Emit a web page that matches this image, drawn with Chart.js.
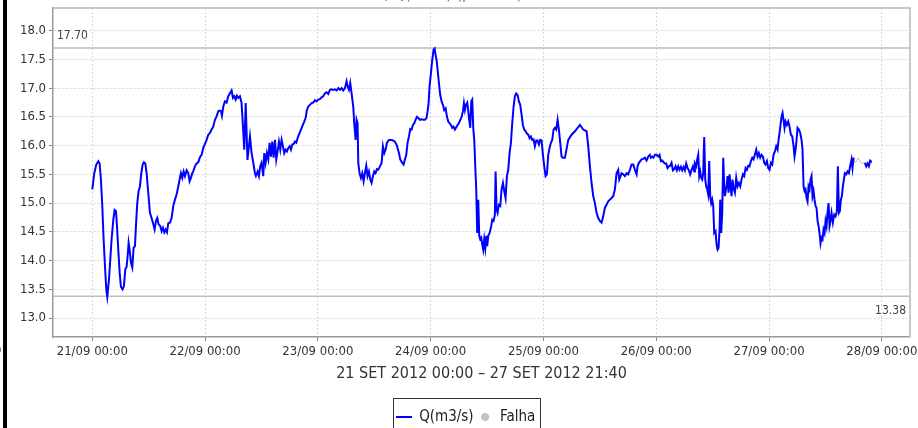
<!DOCTYPE html>
<html>
<head>
<meta charset="utf-8">
<script src="https://cdn.jsdelivr.net/npm/chart.js@4/dist/chart.umd.min.js"></script>
<style>
  html, body { margin: 0; padding: 0; background: #fff; }
  body { width: 918px; height: 428px; overflow: hidden; position: relative; }
  #wrap { position: absolute; left: 0; top: 0; width: 918px; height: 445px; }
  #barra { position: absolute; left: 3px; top: 0; width: 4px; height: 428px; background: #000; }
  #corte { position: absolute; left: -6px; top: 342px; font: 13px 'DejaVu Sans Condensed', 'DejaVu Sans'; color: #333; }
  #titulo { position: absolute; left: 342px; top: -16px; white-space: nowrap;
            font: 16px 'DejaVu Sans Condensed', 'DejaVu Sans'; color: #777; }
</style>
</head>
<body>
<div id="wrap"><canvas id="grafico" width="918" height="445"></canvas></div>
<div id="titulo">Vazão, Q(m3/s) (período)</div>
<div id="barra"></div>
<div id="corte">0</div>
<script>
// horas desde 21/09/2012 00:00 e vazão medida (m3/s); null = falha
const horas = [
  0.00, 0.43, 0.85, 1.28, 1.56, 1.84, 2.13, 2.41, 2.70, 2.98, 3.19, 3.55, 3.83, 4.11, 4.47, 4.75,
  5.04, 5.25, 5.53, 5.82, 6.10, 6.45, 6.74, 7.02, 7.30, 7.52, 7.73, 7.94, 8.23, 8.51, 8.79, 9.08,
  9.29, 9.57, 9.86, 10.14, 10.43, 10.71, 10.99, 11.28, 11.56, 11.91, 12.27, 12.62, 12.98, 13.26, 13.55, 13.83,
  14.11, 14.47, 14.75, 15.04, 15.32, 15.60, 15.89, 16.17, 16.52, 16.88, 17.23, 17.59, 17.94, 18.30, 18.58, 18.87,
  19.15, 19.43, 19.72, 20.07, 20.43, 20.71, 20.99, 21.28, 21.56, 21.84, 22.20, 22.55, 22.91, 23.26, 23.62, 23.97,
  24.33, 24.68, 25.04, 25.39, 25.74, 26.10, 26.45, 26.81, 27.09, 27.38, 27.59, 27.87, 28.23, 28.58, 28.94, 29.29,
  29.65, 29.93, 30.21, 30.50, 30.78, 31.06, 31.42, 31.77, 32.06, 32.34, 32.64, 33.02,
  33.55, 33.90, 34.26, 34.61, 34.82, 35.18, 35.46, 35.74, 36.03, 36.38, 36.60, 36.88, 37.16, 37.45, 37.73, 38.01,
  38.30, 38.58, 38.87, 39.15, 39.43, 39.72, 40.00, 40.28, 40.57, 40.85, 41.13, 41.42, 41.70, 41.99, 42.27, 42.55,
  42.84, 43.12, 43.40, 43.69, 43.97, 44.26, 44.54, 44.82, 45.11, 45.39, 45.67, 45.96, 46.31, 46.67, 47.02, 47.38,
  47.73, 48.09, 48.44, 48.79, 49.15, 49.50, 49.86, 50.21, 50.57, 50.92, 51.28, 51.63, 51.99, 52.34, 52.70, 53.05,
  53.40, 53.76, 54.11, 54.33, 54.61, 54.89, 55.18, 55.53, 55.74, 56.03, 56.24, 56.45, 56.60, 56.88, 57.16, 57.45,
  57.73, 58.01, 58.30, 58.58, 58.87, 59.15, 59.43, 59.72, 60.00, 60.28, 60.57, 60.85, 61.21, 61.56, 61.84, 62.13,
  62.41, 62.70, 63.12, 63.55, 63.97, 64.40, 64.82, 65.25, 65.53, 65.96, 66.24, 66.52,
  66.81, 67.09, 67.38, 67.66, 67.94, 68.23, 68.51, 68.79, 69.08, 69.36, 69.72, 70.07, 70.43, 70.78, 71.13, 71.35,
  71.56, 71.77, 72.06, 72.34, 72.62, 72.84, 73.05, 73.26, 73.48, 73.76, 74.04, 74.33, 74.61, 74.89, 75.18, 75.46,
  75.74, 76.03, 76.31, 76.60, 76.88, 77.16, 77.45, 77.73, 78.01, 78.30, 78.58, 78.87, 79.08, 79.29, 79.50, 79.79,
  80.00, 80.21, 80.43, 80.64, 80.85, 81.06, 81.28, 81.49, 81.70, 81.91, 82.13, 82.34, 82.55, 82.77, 82.98, 83.19,
  83.40, 83.62, 83.83, 84.04, 84.26, 84.54, 84.82, 85.11, 85.39, 85.67, 85.82, 86.03, 86.24, 86.52, 86.81, 87.09,
  87.38, 87.66, 87.94, 88.23, 88.51, 88.79, 89.08, 89.36, 89.65, 89.93, 90.21, 90.50, 90.78, 91.06, 91.35, 91.63,
  91.91, 92.20, 92.48, 92.77, 93.05, 93.33, 93.62, 93.90, 94.18, 94.47, 94.75, 95.04, 95.32, 95.60, 95.89, 96.17,
  96.45, 96.74, 97.02, 97.30, 97.59, 97.87, 98.16, 98.44, 98.72, 99.01, 99.29, 99.57, 99.86, 100.14, 100.57,
  101.28, 101.99, 102.70, 103.76, 104.47, 105.18, 105.53, 105.89, 106.24, 106.60, 106.95, 107.30, 107.66, 108.01, 108.37, 108.72,
  109.08, 109.43, 109.79, 110.14, 110.50, 110.85, 111.21, 111.56, 111.91, 112.13, 112.41, 112.62, 112.98, 113.33, 113.69, 114.04,
  114.40, 114.75, 115.11, 115.46, 115.82, 116.03, 116.31, 116.60, 116.88, 117.23, 117.59, 117.94, 118.30, 118.65, 118.87, 119.15,
  119.43, 119.72, 120.07, 120.43, 120.71, 120.99, 121.28, 121.56, 121.84, 122.13, 122.41, 122.70, 122.98, 123.26, 123.55, 123.83,
  124.11, 124.40, 124.68, 124.96, 125.25, 125.53, 125.82, 126.10, 126.38, 126.67, 126.95, 127.23, 127.52, 127.80, 128.09, 128.23,
  128.51, 128.72, 128.94, 129.15, 129.36, 129.57, 129.79, 130.00, 130.21, 130.43, 130.64, 130.85, 131.06, 131.28, 131.49, 131.70,
  131.91, 132.13, 132.34, 132.62, 132.84, 133.05, 133.26, 133.48, 133.62, 133.83, 134.04, 134.26, 134.47, 134.61,
  134.96, 135.18, 135.39, 135.60, 135.82, 136.03, 136.24, 136.45, 136.74, 137.02, 137.30, 137.59, 137.87, 138.16, 138.44, 138.72,
  139.01, 139.29, 139.57, 139.86, 140.14, 140.43, 140.71, 140.99, 141.28, 141.56, 141.84, 142.13, 142.41, 142.70, 142.98, 143.26,
  143.55, 143.83, 144.11, 144.40, 144.68, 144.96, 145.25, 145.53, 145.82, 146.03, 146.24, 146.45, 146.67, 146.88, 147.09, 147.30,
  147.52, 147.80, 148.09, 148.37, 148.65, 148.94, 149.22, 149.43, 149.65, 149.86, 150.07, 150.35, 150.64, 150.92, 151.13, 151.35,
  151.56, 151.77, 151.99, 152.20, 152.41, 152.62, 152.84, 153.05, 153.26, 153.48, 153.69, 153.90, 154.11, 154.33, 154.54, 154.75,
  154.96, 155.18, 155.39, 155.60, 155.82, 156.03, 156.24, 156.45, 156.67, 156.88, 157.09, 157.30, 157.59, 157.87, 158.16, 158.44,
  158.65, 158.87, 159.08, 159.29, 159.50, 159.72, 159.93, 160.14, 160.43, 160.71, 161.00, 161.28, 161.56, 161.77, 161.99,
  163.00,
  164.40, 164.68, 164.96, 165.25, 165.53, 165.67
];
const vazao = [
  15.24, 15.52, 15.67, 15.73, 15.69, 15.41, 14.95, 14.37, 13.90, 13.50, 13.37, 13.67, 14.02, 14.37, 14.71, 14.88,
  14.86, 14.60, 14.19, 13.79, 13.54, 13.50, 13.56, 13.85, 13.89, 14.08, 14.31, 14.19, 13.96, 13.88, 14.22, 14.25,
  14.60, 15.00, 15.21, 15.29, 15.52, 15.67, 15.71, 15.69, 15.52, 15.18, 14.83, 14.74, 14.63, 14.54, 14.69, 14.74,
  14.63, 14.60, 14.51, 14.57, 14.49, 14.54, 14.49, 14.65, 14.66, 14.74, 14.95, 15.06, 15.15, 15.29, 15.41, 15.52,
  15.44, 15.55, 15.47, 15.57, 15.52, 15.38, 15.44, 15.52, 15.57, 15.64, 15.69, 15.71, 15.80, 15.84, 15.96, 16.03,
  16.10, 16.19, 16.22, 16.28, 16.33, 16.45, 16.51, 16.60, 16.61, 16.60, 16.52, 16.68, 16.77, 16.75, 16.86, 16.91,
  16.96, 16.83, 16.86, 16.80, 16.87, 16.83, 16.86, 16.74, 16.33, 15.93, 16.74, 15.75,
  16.16, 15.87, 15.70, 15.52, 15.47, 15.55, 15.47, 15.64, 15.70, 15.47, 15.87, 15.70, 15.87, 15.76, 16.05, 15.81,
  16.07, 15.79, 16.10, 15.76, 15.90, 16.07, 15.93, 16.10, 15.99, 15.87, 15.93, 15.90, 15.96, 15.99, 15.93, 16.02,
  16.03, 16.07, 16.05, 16.13, 16.19, 16.25, 16.31, 16.36, 16.42, 16.48, 16.62, 16.68, 16.71, 16.74, 16.75, 16.79,
  16.77, 16.80, 16.81, 16.84, 16.86, 16.91, 16.93, 16.90, 16.97, 16.98, 16.97, 16.98, 16.96, 17.00, 16.97, 17.00,
  16.96, 17.00, 17.12, 17.03, 16.97, 17.09, 16.91, 16.68, 16.39, 16.10, 16.45, 16.39, 15.70, 15.52, 15.44, 15.52,
  15.38, 15.52, 15.65, 15.47, 15.55, 15.41, 15.35, 15.47, 15.55, 15.52, 15.59, 15.58, 15.64, 15.70, 15.99, 15.87,
  15.93, 16.05, 16.10, 16.10, 16.09, 16.07, 16.00, 15.87, 15.76, 15.70, 15.67, 15.76,
  15.84, 16.05, 16.16, 16.29, 16.28, 16.36, 16.39, 16.45, 16.50, 16.48, 16.45, 16.46, 16.45, 16.45, 16.48, 16.60,
  16.74, 17.03, 17.26, 17.49, 17.67, 17.69, 17.58, 17.49, 17.32, 17.09, 16.88, 16.77, 16.71, 16.62, 16.65, 16.51,
  16.42, 16.39, 16.36, 16.31, 16.33, 16.28, 16.32, 16.36, 16.39, 16.45, 16.50, 16.60, 16.74, 16.62, 16.71, 16.75,
  16.60, 16.45, 16.31, 16.77, 16.80, 16.31, 16.10, 15.64, 15.24, 14.48, 15.06, 14.43, 14.37, 14.40, 14.28, 14.19,
  14.37, 14.22, 14.43, 14.25, 14.43, 14.48, 14.57, 14.71, 14.69, 14.80, 15.55, 14.89, 14.83, 14.97, 14.95, 15.24,
  15.35, 15.21, 15.09, 15.47, 15.58, 15.87, 16.05, 16.39, 16.68, 16.86, 16.91, 16.88, 16.77, 16.71, 16.54, 16.36,
  16.28, 16.25, 16.21, 16.19, 16.13, 16.16, 16.10, 16.11, 15.99, 16.09, 16.09, 16.02, 16.10, 16.09, 15.84, 15.64,
  15.47, 15.50, 15.84, 15.96, 16.05, 16.10, 16.28, 16.31, 16.28, 16.45, 16.28, 16.05, 15.81, 15.79, 15.79,
  16.10, 16.19, 16.25, 16.36, 16.28, 16.25, 15.99, 15.64, 15.35, 15.12, 15.00, 14.83, 14.74, 14.69, 14.66, 14.77,
  14.92, 14.97, 15.03, 15.06, 15.09, 15.12, 15.24, 15.52, 15.58, 15.41, 15.47, 15.52, 15.50, 15.47, 15.52, 15.50,
  15.58, 15.67, 15.67, 15.58, 15.50, 15.64, 15.70, 15.73, 15.76, 15.77, 15.79, 15.74, 15.81, 15.84, 15.79, 15.81,
  15.79, 15.84, 15.84, 15.81, 15.84, 15.73, 15.74, 15.71, 15.69, 15.69, 15.61, 15.64, 15.65, 15.70, 15.57, 15.59,
  15.64, 15.57, 15.64, 15.58, 15.63, 15.57, 15.63, 15.57, 15.69, 15.61, 15.57, 15.50, 15.58, 15.64, 15.55, 15.69,
  15.64, 15.76, 15.84, 15.47, 15.55, 15.44, 15.41, 15.52, 16.15, 15.41, 15.29, 15.24, 15.15, 15.73, 15.12, 15.00,
  15.06, 14.95, 14.48, 14.51, 14.28, 14.19, 14.22, 14.54, 15.06, 14.48, 14.83, 15.79, 15.29, 15.12,
  15.29, 15.47, 15.18, 15.50, 15.29, 15.12, 15.41, 15.26, 15.18, 15.44, 15.29, 15.35, 15.29, 15.41, 15.50, 15.47,
  15.61, 15.58, 15.65, 15.64, 15.73, 15.79, 15.76, 15.84, 15.93, 15.81, 15.87, 15.79, 15.84, 15.81, 15.70, 15.67,
  15.73, 15.61, 15.58, 15.70, 15.67, 15.84, 15.90, 15.99, 15.93, 16.10, 16.22, 16.36, 16.51, 16.57, 16.45, 16.31,
  16.42, 16.36, 16.42, 16.33, 16.19, 16.16, 15.99, 15.81, 15.93, 16.10, 16.31, 16.28, 16.22, 16.10, 15.93, 15.29,
  15.21, 15.24, 15.09, 15.03, 15.29, 15.24, 15.41, 15.47, 15.12, 15.21, 15.06, 14.95, 14.92, 14.69, 14.60, 14.48,
  14.30, 14.40, 14.37, 14.54, 14.48, 14.69, 14.60, 14.83, 15.00, 14.60, 14.69, 14.83, 14.66, 14.80, 14.77, 14.86,
  15.64, 14.83, 14.86, 15.06, 15.12, 15.29, 15.41, 15.52, 15.50, 15.55, 15.52, 15.65, 15.76, 15.61, 15.79,
  null,
  15.70, 15.64, 15.69, 15.64, 15.74, 15.73
];
// trecho marcado como falha (série cinza)
const horasFalha = [161.99, 162.41, 162.98, 163.55, 164.04, 164.40];
const vazaoFalha = [15.79, 15.70, 15.79, 15.71, 15.69, 15.70];

// linhas de máximo e mínimo do período
const limites = [17.70, 13.38];

const diasTicks = ['21/09', '22/09', '23/09', '24/09', '25/09', '26/09', '27/09', '28/09'];
const tituloX = '21 SET 2012 00:00 \u2013 27 SET 2012 21:40';

const xMin = -8.36, xMax = 174.0;
const yMin = 12.67, yMax = 18.395;

const FONTE = "'DejaVu Sans Condensed', 'DejaVu Sans', sans-serif";

const serieQ = horas.map((h, i) => ({ x: h, y: vazao[i] }));
const serieFalha = horasFalha.map((h, i) => ({ x: h, y: vazaoFalha[i] }));
const linhaLimite = v => [{ x: xMin, y: v }, { x: xMax, y: v }];

// amostra de linha para a legenda da série Q
const amostraLinha = document.createElement('canvas');
amostraLinha.width = 16;
amostraLinha.height = 4;
(() => {
    const c = amostraLinha.getContext('2d');
    c.fillStyle = '#0000ff';
    c.fillRect(0, 1, 16, 2);
})();

const decoracao = {
    id: 'decoracao',
    afterLayout(chart) {
        // desloca a legenda para a direita, como na figura original
        if (chart.legend) chart.legend.left += 22;
    },
    afterDraw(chart) {
        const { ctx, chartArea: a, scales: { y } } = chart;
        ctx.save();
        // moldura superior e direita da área do gráfico
        ctx.strokeStyle = '#c8c8c8';
        ctx.lineWidth = 2;
        ctx.beginPath();
        ctx.moveTo(a.left, a.top);
        ctx.lineTo(a.right, a.top);
        ctx.lineTo(a.right, a.bottom);
        ctx.stroke();

        // rótulos dos limites
        ctx.fillStyle = '#444';
        ctx.font = '12px ' + FONTE;
        ctx.textBaseline = 'middle';
        ctx.textAlign = 'left';
        ctx.fillText(limites[0].toFixed(2), a.left + 4, y.getPixelForValue(limites[0]) - 12);
        ctx.textAlign = 'right';
        ctx.fillText(limites[1].toFixed(2), a.right - 4, y.getPixelForValue(limites[1]) + 15);

        // caixa da legenda
        const lg = chart.legend;
        if (lg && lg.legendHitBoxes.length) {
            const hb = lg.legendHitBoxes;
            const l = hb[0].left - 4;
            const r = hb[hb.length - 1].left + hb[hb.length - 1].width + 4;
            const t = hb[0].top - 12;
            ctx.strokeStyle = '#333';
            ctx.lineWidth = 1;
            ctx.strokeRect(Math.round(l) + 0.5, Math.round(t) + 0.5, Math.round(r - l), 50);
        }
        ctx.restore();
    }
};

new Chart(document.getElementById('grafico'), {
    type: 'line',
    data: {
        datasets: [
            { label: 'Q(m3/s)', data: serieQ, borderColor: '#0000ff', backgroundColor: '#0000ff',
              borderWidth: 2, pointRadius: 0, tension: 0, spanGaps: false, pointStyle: amostraLinha, order: 1 },
            { label: 'Falha', data: serieFalha, borderColor: '#bdbdbd', backgroundColor: '#c4c4c4',
              borderWidth: 1, pointRadius: 0, tension: 0, pointStyle: 'circle', order: 2 },
            { label: 'max', data: linhaLimite(limites[0]), borderColor: '#bdbdbd', borderWidth: 1.5, pointRadius: 0, order: 3 },
            { label: 'min', data: linhaLimite(limites[1]), borderColor: '#bdbdbd', borderWidth: 1.5, pointRadius: 0, order: 3 }
        ]
    },
    options: {
        responsive: false,
        animation: false,
        events: [],
        layout: { padding: { left: 0, right: 8, top: 8, bottom: 10.5 } },
        plugins: {
            tooltip: { enabled: false },
            legend: {
                position: 'bottom',
                labels: {
                    filter: item => item.datasetIndex < 2,
                    usePointStyle: true,
                    boxHeight: 5,
                    padding: 4,
                    color: '#222',
                    font: { family: FONTE, size: 15 }
                }
            }
        },
        scales: {
            x: {
                type: 'linear',
                min: xMin,
                max: xMax,
                afterFit(s) { s.height = 68.5; s.paddingLeft = 0; s.paddingRight = 0; },
                ticks: {
                    stepSize: 24,
                    includeBounds: false,
                    autoSkip: false,
                    maxRotation: 0,
                    padding: 3,
                    color: '#333',
                    font: { family: FONTE, size: 13 },
                    callback: v => diasTicks[Math.round(v / 24)] + ' 00:00'
                },
                grid: { color: '#d6d6d6', lineWidth: 1, tickLength: 4, tickColor: '#888', tickBorderDash: [] },
                border: { color: '#999', width: 1.5, dash: [2, 2] },
                title: { display: true, text: tituloX, color: '#333', font: { family: FONTE, size: 16 },
                         padding: { top: 0, bottom: 22 } }
            },
            y: {
                min: yMin,
                max: yMax,
                afterFit(s) { s.width = 53; s.paddingTop = 0; s.paddingBottom = 0; },
                ticks: {
                    stepSize: 0.5,
                    includeBounds: false,
                    padding: 3,
                    color: '#333',
                    font: { family: FONTE, size: 13 },
                    callback: v => v.toFixed(1)
                },
                grid: { color: '#d6d6d6', lineWidth: 1, tickLength: 4, tickColor: '#888', tickBorderDash: [] },
                border: { color: '#999', width: 1.5, dash: [2, 2] }
            }
        }
    },
    plugins: [decoracao]
});
</script>
</body>
</html>
